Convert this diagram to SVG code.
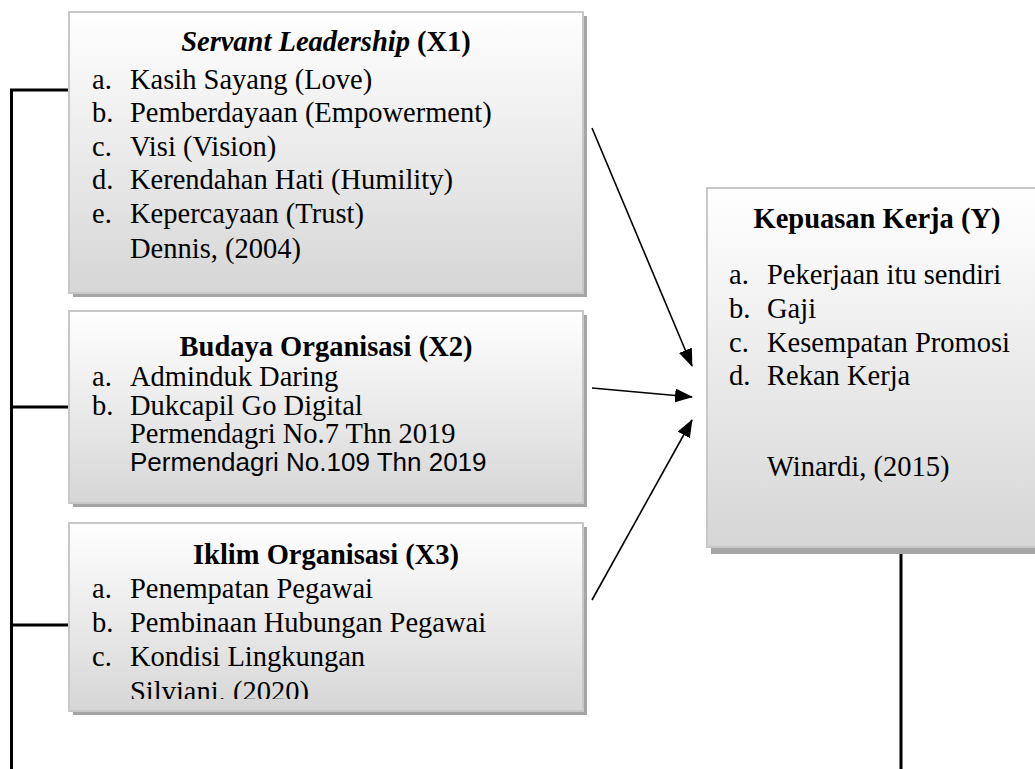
<svg xmlns="http://www.w3.org/2000/svg" width="1035" height="769" viewBox="0 0 1035 769">
<style>
.t{font-family:"Liberation Serif","Times New Roman",serif;font-size:28.5px;fill:#000}
.b{font-weight:bold}
.bi{font-weight:bold;font-style:italic}
.s{font-family:"Liberation Sans",Arial,sans-serif;font-size:26px;fill:#000}
.box{fill:url(#g);stroke:#c8c8c8;stroke-width:2}
.sh{fill:#a6a6a6}
.ln{stroke:#000;stroke-width:3;fill:none}
.ar{stroke:#000;stroke-width:1.6;fill:none;marker-end:url(#ah)}
</style>
<defs>
<linearGradient id="g" x1="0" y1="0" x2="0" y2="1">
<stop offset="0" stop-color="#ffffff"/>
<stop offset="1" stop-color="#d6d6d6"/>
</linearGradient>
<marker id="ah" markerUnits="userSpaceOnUse" markerWidth="18" markerHeight="14" refX="17" refY="7" orient="auto">
<path d="M0,0 L18,7 L0,14 Z" fill="#000"/>
</marker>
<clipPath id="c3"><rect x="69" y="523" width="514" height="176"/></clipPath>
</defs>

<g id="connectors">
<path class="ln" d="M11.5,769 V90 H69 M11.5,407 H69 M11.5,625 H69"/>
<path class="ln" d="M901,554 V769"/>
<line class="ar" x1="592" y1="128" x2="692" y2="366"/>
<line class="ar" x1="592" y1="388" x2="692" y2="397"/>
<line class="ar" x1="592" y1="600" x2="692" y2="420"/>
</g>

<g id="x1">
<rect class="sh" x="73" y="16" width="514" height="281"/>
<rect class="box" x="69" y="12" width="514" height="281"/>
<text class="t" x="326" y="51" text-anchor="middle"><tspan class="bi">Servant Leadership</tspan><tspan class="b"> (X1)</tspan></text>
<text class="t" x="92" y="89">a.</text><text class="t" x="130" y="89">Kasih Sayang (Love)</text>
<text class="t" x="92" y="122">b.</text><text class="t" x="130" y="122">Pemberdayaan (Empowerment)</text>
<text class="t" x="92" y="156">c.</text><text class="t" x="130" y="156">Visi (Vision)</text>
<text class="t" x="92" y="189">d.</text><text class="t" x="130" y="189">Kerendahan Hati (Humility)</text>
<text class="t" x="92" y="223">e.</text><text class="t" x="130" y="223">Kepercayaan (Trust)</text>
<text class="t" x="130" y="258">Dennis, (2004)</text>
</g>

<g id="x2">
<rect class="sh" x="73" y="315" width="514" height="192"/>
<rect class="box" x="69" y="311" width="514" height="192"/>
<text class="t b" x="326" y="356" text-anchor="middle">Budaya Organisasi (X2)</text>
<text class="t" x="92" y="386">a.</text><text class="t" x="130" y="386">Adminduk Daring</text>
<text class="t" x="92" y="415">b.</text><text class="t" x="130" y="415">Dukcapil Go Digital</text>
<text class="t" x="130" y="443">Permendagri No.7 Thn 2019</text>
<text class="s" x="130" y="471">Permendagri No.109 Thn 2019</text>
</g>

<g id="x3">
<rect class="sh" x="73" y="527" width="514" height="188"/>
<rect class="box" x="69" y="523" width="514" height="188"/>
<text class="t b" x="326" y="564" text-anchor="middle">Iklim Organisasi (X3)</text>
<text class="t" x="92" y="598">a.</text><text class="t" x="130" y="598">Penempatan Pegawai</text>
<text class="t" x="92" y="632">b.</text><text class="t" x="130" y="632">Pembinaan Hubungan Pegawai</text>
<text class="t" x="92" y="666">c.</text><text class="t" x="130" y="666">Kondisi Lingkungan</text>
<text class="t" x="130" y="701" clip-path="url(#c3)">Silviani, (2020)</text>
</g>

<g id="y">
<rect class="sh" x="711" y="192" width="340" height="362"/>
<rect class="box" x="707" y="188" width="340" height="359"/>
<text class="t b" x="877" y="228" text-anchor="middle">Kepuasan Kerja (Y)</text>
<text class="t" x="729" y="284">a.</text><text class="t" x="767" y="284">Pekerjaan itu sendiri</text>
<text class="t" x="729" y="318">b.</text><text class="t" x="767" y="318">Gaji</text>
<text class="t" x="729" y="352">c.</text><text class="t" x="767" y="352">Kesempatan Promosi</text>
<text class="t" x="729" y="385">d.</text><text class="t" x="767" y="385">Rekan Kerja</text>
<text class="t" x="767" y="476">Winardi, (2015)</text>
</g>
</svg>
